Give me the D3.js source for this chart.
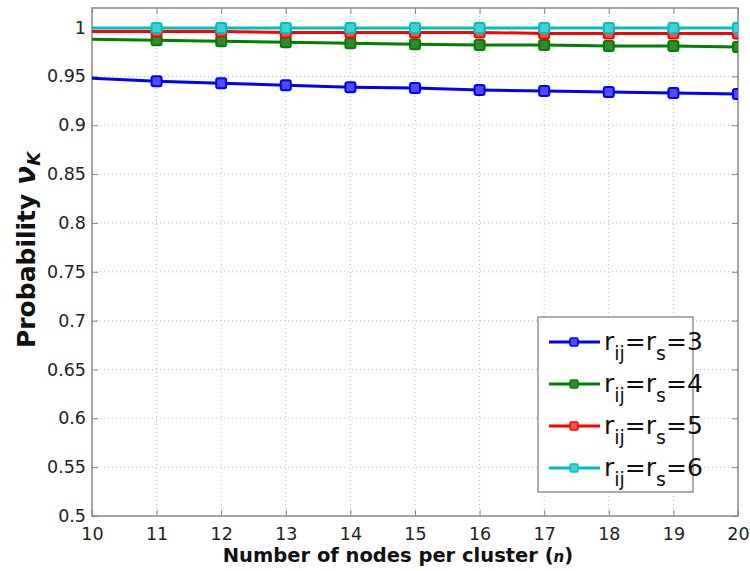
<!DOCTYPE html>
<html><head><meta charset="utf-8">
<script src="https://cdn.jsdelivr.net/npm/d3@7"></script>
<style>body{margin:0;background:#fff}svg{display:block}</style>
</head><body>
<script>
const nodes = [10,11,12,13,14,15,16,17,18,19,20];
const series3 = [0.948,0.945,0.943,0.941,0.939,0.938,0.936,0.935,0.934,0.933,0.932];
const series4 = [0.988,0.987,0.986,0.985,0.984,0.983,0.982,0.982,0.981,0.981,0.980];
const series5 = [0.996,0.996,0.996,0.995,0.995,0.995,0.995,0.994,0.994,0.994,0.994];
const series6 = [0.9995,0.9995,0.9995,0.9995,0.9995,0.9995,0.9995,0.9995,0.9995,0.9995,0.9995];
const seriesNames = ["3","4","5","6"];
const seriesColors = ["#0000ff","#008000","#ff0000","#00bfbf"];
const seriesFills = ["#4d4dff","#2e8b2e","#ff5050","#40d0d0"];
const yTicks = [0.5,0.55,0.6,0.65,0.7,0.75,0.8,0.85,0.9,0.95,1];
const xTicks = [10,11,12,13,14,15,16,17,18,19,20];

const W=750,H=571;
const L=92,R=738,T=8,B=516;
const svg=d3.select("body").append("svg").attr("width",W).attr("height",H);
const x=d3.scaleLinear().domain([10,20]).range([L,R]);
const y=d3.scaleLinear().domain([0.5,1.02]).range([B,T]);

// grid
const g=svg.append("g");
g.selectAll(".gx").data(xTicks.slice(1,-1)).enter().append("line")
 .attr("x1",d=>x(d)).attr("x2",d=>x(d)).attr("y1",T).attr("y2",B)
 .attr("stroke","#bbb").attr("stroke-width",1).attr("stroke-dasharray","1,3");
g.selectAll(".gy").data(yTicks.slice(1)).enter().append("line")
 .attr("y1",d=>y(d)).attr("y2",d=>y(d)).attr("x1",L).attr("x2",R)
 .attr("stroke","#bbb").attr("stroke-width",1).attr("stroke-dasharray","1,3");

// axes
const xAx=svg.append("g").attr("transform",`translate(0,${B})`)
 .call(d3.axisBottom(x).tickValues(xTicks).tickSize(-6).tickPadding(12).tickFormat(d3.format("d")));
const yAx=svg.append("g").attr("transform",`translate(${L},0)`)
 .call(d3.axisLeft(y).tickValues(yTicks).tickSize(-6).tickPadding(6).tickFormat(d=>d===1?"1":d3.format("")(d)));
const xAxT=svg.append("g").attr("transform",`translate(0,${T})`)
 .call(d3.axisTop(x).tickValues(xTicks).tickSize(-6).tickFormat(""));
const yAxR=svg.append("g").attr("transform",`translate(${R},0)`)
 .call(d3.axisRight(y).tickValues(yTicks).tickSize(-6).tickFormat(""));
[xAx,yAx,xAxT,yAxR].forEach(a=>{
 a.select(".domain").remove();
 a.selectAll("line").attr("stroke","#888");
 a.selectAll("text").attr("font-family","DejaVu Sans, Verdana, sans-serif").attr("font-size",17.5).attr("fill","#222");
});
svg.append("rect").attr("x",L).attr("y",T).attr("width",R-L).attr("height",B-T)
 .attr("fill","none").attr("stroke","#888").attr("stroke-width",1.5);

// clip
svg.append("clipPath").attr("id","clip").append("rect").attr("x",L).attr("y",T).attr("width",R-L).attr("height",B-T);

const allSeries=[series3,series4,series5,series6];
const line=d3.line().x((d,i)=>x(nodes[i])).y(d=>y(d));
const plot=svg.append("g").attr("clip-path","url(#clip)");
allSeries.forEach((s,k)=>{
 plot.append("path").datum(s).attr("d",line).attr("fill","none")
  .attr("stroke",seriesColors[k]).attr("stroke-width",3);
 plot.selectAll(null).data(s.slice(1)).enter().append("rect")
  .attr("x",(d,i)=>x(nodes[i+1])-5).attr("y",d=>y(d)-5).attr("width",10).attr("height",10).attr("rx",2)
  .attr("fill",seriesFills[k]).attr("stroke",seriesColors[k]).attr("stroke-width",2);
});

// legend
const lg=svg.append("g");
lg.append("rect").attr("x",538).attr("y",317).attr("width",155).attr("height",175)
 .attr("fill","#fff").attr("stroke","#777").attr("stroke-width",1.2);
seriesNames.forEach((n,k)=>{
 const yy=342+k*42;
 lg.append("line").attr("x1",549).attr("x2",600).attr("y1",yy).attr("y2",yy)
  .attr("stroke",seriesColors[k]).attr("stroke-width",3);
 lg.append("rect").attr("x",570).attr("y",yy-4).attr("width",8).attr("height",8).attr("rx",1.5)
  .attr("fill",seriesFills[k]).attr("stroke",seriesColors[k]).attr("stroke-width",1.5);
 const t=lg.append("text").attr("x",604).attr("y",yy+8)
  .attr("font-family","DejaVu Sans, Verdana, sans-serif").attr("font-size",25).attr("fill","#111");
 t.append("tspan").text("r");
 t.append("tspan").attr("dy",10).attr("font-size",19).text("ij");
 t.append("tspan").attr("dy",-10).text("=r");
 t.append("tspan").attr("dy",10).attr("font-size",19).text("s");
 t.append("tspan").attr("dy",-10).text("="+n);
});

// titles
const xt=svg.append("text").attr("x",398).attr("y",562).attr("text-anchor","middle")
 .attr("font-family","DejaVu Sans, Verdana, sans-serif").attr("font-weight","bold").attr("font-size",19.5).attr("fill","#111");
xt.append("tspan").text("Number of nodes per cluster (");
xt.append("tspan").attr("font-style","italic").attr("font-size",15).text("n");
xt.append("tspan").text(")");

const yt=svg.append("text").attr("transform","translate(35,250) rotate(-90)").attr("text-anchor","middle")
 .attr("font-family","DejaVu Sans, Verdana, sans-serif").attr("font-weight","bold").attr("font-size",25).attr("fill","#111");
yt.append("tspan").text("Probability ");
yt.append("tspan").attr("font-style","italic").attr("font-size",28).text("ν");
yt.append("tspan").attr("font-style","italic").attr("font-size",18).attr("dy",5).text("K");
</script>
</body></html>
